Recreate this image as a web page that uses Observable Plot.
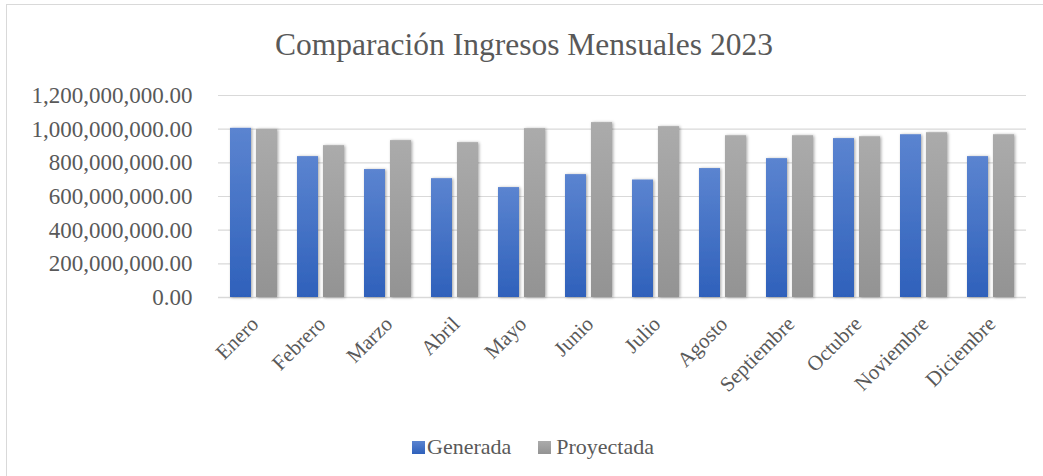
<!DOCTYPE html>
<html>
<head>
<meta charset="utf-8">
<script src="https://cdn.jsdelivr.net/npm/d3@7"></script>
<script src="https://cdn.jsdelivr.net/npm/@observablehq/plot@0.6"></script>
<style>
  html, body { margin: 0; padding: 0; background: #fff; }
  body { width: 1043px; height: 476px; overflow: hidden; position: relative; font-family: "Liberation Serif", "Times New Roman", serif; color: #595959; }
  #frame { position: absolute; left: 6px; top: 4px; width: 1100px; height: 520px; border: 1.5px solid #d9d9d9; box-sizing: border-box; }
  #title { position: absolute; left: 0; top: 29px; width: 1048px; text-align: center; font-family: "Liberation Serif", "Times New Roman", serif; font-size: 31.5px; line-height: 1; white-space: nowrap; }
  #chart { position: absolute; left: 0; top: 0; }
  #chart text { font-family: "Liberation Serif", "Times New Roman", serif; }
  #legend { position: absolute; left: 412px; top: 436px; display: flex; align-items: center; font-family: "Liberation Serif", "Times New Roman", serif; font-size: 22px; line-height: 1; white-space: nowrap; }
  .sw { display: inline-block; width: 13px; height: 13px; }
  .sw.g { background: linear-gradient(#5b84d0, #2f61bb); margin-right: 2px; }
  .sw.p { background: linear-gradient(#ababab, #939393); margin-left: 27px; margin-right: 5px; }
</style>
</head>
<body>
<div id="frame"></div>
<div id="title">Comparación Ingresos Mensuales 2023</div>
<div id="chart"></div>
<div id="legend"></div>
<script>
const months = ["Enero", "Febrero", "Marzo", "Abril", "Mayo", "Junio", "Julio", "Agosto", "Septiembre", "Octubre", "Noviembre", "Diciembre"];
const generada = [1005e6, 837e6, 760e6, 706e6, 653e6, 730e6, 698e6, 766e6, 825e6, 944e6, 967e6, 837e6];
const proyectada = [999e6, 902e6, 932e6, 920e6, 1003e6, 1039e6, 1015e6, 961e6, 961e6, 955e6, 979e6, 967e6];
const series = ["Generada", "Proyectada"];
const yTicks = [0, 200e6, 400e6, 600e6, 800e6, 1000e6, 1200e6];

const gData = months.map((m, i) => ({month: m, value: generada[i]}));
const pData = months.map((m, i) => ({month: m, value: proyectada[i]}));

const svg = Plot.plot({
  width: 1043,
  height: 420,
  marginLeft: 218,
  marginRight: 17,
  marginTop: 95,
  marginBottom: 123,
  style: {background: "transparent", fontFamily: "'Liberation Serif', 'Times New Roman', serif", fontSize: "23px", color: "#595959", overflow: "visible"},
  x: {domain: months, paddingInner: 0.3, paddingOuter: 0.15, label: null},
  y: {domain: [0, 1.2e9], label: null},
  marks: [
    Plot.gridY(yTicks, {stroke: "#d9d9d9", strokeOpacity: 1, strokeWidth: 1.2}),
    Plot.ruleY([0], {stroke: "#d9d9d9", strokeWidth: 1.6}),
    Plot.barY(gData, {x: "month", y: "value", fill: "url(#gradBlue)", insetRight: 26}),
    Plot.barY(pData, {x: "month", y: "value", fill: "url(#gradGray)", insetLeft: 26}),
    Plot.axisY(yTicks, {tickSize: 0, tickPadding: 26, tickFormat: d3.format(",.2f"), fontSize: 23, fill: "#595959", label: null}),
    Plot.axisX({tickSize: 0, tickPadding: 23, tickRotate: -45, fontSize: 21, fill: "#595959", dx: 1, label: null})
  ]
});

const s = d3.select(svg);
const defs = s.insert("defs", ":first-child");
const gb = defs.append("linearGradient").attr("id", "gradBlue").attr("x1", 0).attr("y1", 0).attr("x2", 0).attr("y2", 1);
gb.append("stop").attr("offset", "0%").attr("stop-color", "#5b84d0");
gb.append("stop").attr("offset", "100%").attr("stop-color", "#2f61bb");
const gg = defs.append("linearGradient").attr("id", "gradGray").attr("x1", 0).attr("y1", 0).attr("x2", 0).attr("y2", 1);
gg.append("stop").attr("offset", "0%").attr("stop-color", "#ababab");
gg.append("stop").attr("offset", "100%").attr("stop-color", "#939393");
const f = defs.append("filter").attr("id", "shadow").attr("x", "-30%").attr("y", "-10%").attr("width", "160%").attr("height", "120%");
f.append("feDropShadow").attr("dx", 1.2).attr("dy", 0.5).attr("stdDeviation", 1.6).attr("flood-color", "#000").attr("flood-opacity", 0.35);
s.selectAll('g[aria-label="bar"]').attr("filter", "url(#shadow)");

document.getElementById("chart").appendChild(svg);

const legend = document.getElementById("legend");
series.forEach((name, i) => {
  const sw = document.createElement("span");
  sw.className = "sw " + (i === 0 ? "g" : "p");
  legend.appendChild(sw);
  const t = document.createElement("span");
  t.textContent = name;
  legend.appendChild(t);
});
</script>
</body>
</html>
